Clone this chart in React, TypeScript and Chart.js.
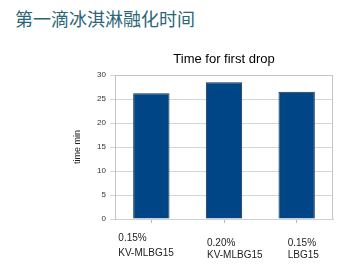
import React, { useEffect, useRef } from "react";
import { Chart, registerables } from "chart.js";

Chart.register(...registerables);

const heading = "第一滴冰淇淋融化时间";
const chartTitle = "Time for first drop";
const categories: string[][] = [
  ["0.15%", "KV-MLBG15"],
  ["0.20%", "KV-MLBG15"],
  ["0.15%", "LBG15"],
];
const values = [26.2, 28.5, 26.5];
const yTitle = "time min";
const yMin = 0;
const yMax = 30;
const yStep = 5;

// styling offsets of the slide's category text boxes relative to each bar centre
const labelOffsets = [
  { dx: -33, dy: 19.5, gap: 14.5 },
  { dx: -17, dy: 24, gap: 12.5 },
  { dx: -9, dy: 24, gap: 12.5 },
];

const overlay = {
  id: "overlay",
  afterDraw(chart: any) {
    const { ctx, chartArea, scales } = chart;
    const { left, right, top, bottom } = chartArea;
    ctx.save();
    ctx.strokeStyle = "#c4c4c4";
    ctx.lineWidth = 1;
    ctx.beginPath();
    const r = Math.round(right) - 0.5;
    const t = Math.round(top) + 0.5;
    ctx.moveTo(Math.round(left), t);
    ctx.lineTo(r, t);
    ctx.lineTo(r, Math.round(bottom));
    ctx.stroke();

    ctx.fillStyle = "#000";
    ctx.font = "13px 'Liberation Sans', Arial, sans-serif";
    ctx.textAlign = "center";
    ctx.textBaseline = "alphabetic";
    ctx.fillText(chartTitle, (left + right) / 2, top - 12.5);

    ctx.fillStyle = "#222";
    ctx.font = "10px 'Liberation Sans', Arial, sans-serif";
    ctx.textAlign = "left";
    ctx.textBaseline = "middle";
    categories.forEach((lines, i) => {
      const o = labelOffsets[i];
      const x = scales.x.getPixelForValue(i) + o.dx;
      lines.forEach((line, j) => {
        ctx.fillText(line, x, bottom + o.dy + j * o.gap);
      });
    });
    ctx.restore();
  },
};

export default function App() {
  const ref = useRef<HTMLCanvasElement>(null);
  useEffect(() => {
    if (!ref.current) return;
    Chart.defaults.font.family = "'Liberation Sans', Arial, sans-serif";
    const chart = new Chart(ref.current, {
      type: "bar",
      data: {
        labels: categories.map((c) => c.join(" ")),
        datasets: [
          {
            data: values,
            backgroundColor: "#004586",
            borderColor: "#1b2f4c",
            borderWidth: 1,
            barPercentage: 0.5,
            categoryPercentage: 1,
          },
        ],
      },
      options: {
        animation: false,
        responsive: false,
        maintainAspectRatio: false,
        layout: { padding: { left: 68, right: 20, top: 75, bottom: 42 } },
        plugins: {
          legend: { display: false },
          title: { display: false },
          tooltip: { enabled: false },
        },
        scales: {
          x: {
            grid: {
              display: true,
              drawOnChartArea: false,
              offset: false,
              tickLength: 4,
              color: "#b8b8b8",
            },
            border: { color: "#d0d0d0" },
            ticks: { display: false },
          },
          y: {
            min: yMin,
            max: yMax,
            ticks: { stepSize: yStep, padding: 4, color: "#333", font: { size: 8 } },
            grid: { color: "#d6d6d6", tickLength: 5 },
            border: { color: "#c4c4c4" },
            title: {
              display: true,
              text: yTitle,
              color: "#222",
              font: { size: 9 },
              padding: { top: 4, bottom: 4 },
            },
            afterFit: (s: any) => {
              s.width = 47;
            },
          },
        },
      },
      plugins: [overlay],
    });
    return () => chart.destroy();
  }, []);

  return (
    <div style={{ position: "fixed", left: 0, top: 0, width: 353, height: 265, background: "#fff" }}>
      <div
        style={{
          position: "absolute",
          left: 15,
          top: 7,
          fontFamily: "'Noto Sans CJK SC', sans-serif",
          fontSize: 18,
          lineHeight: "22px",
          color: "#2b6677",
          whiteSpace: "nowrap",
        }}
      >
        {heading}
      </div>
      <canvas ref={ref} width={353} height={265} style={{ position: "absolute", left: 0, top: 0 }} />
    </div>
  );
}
